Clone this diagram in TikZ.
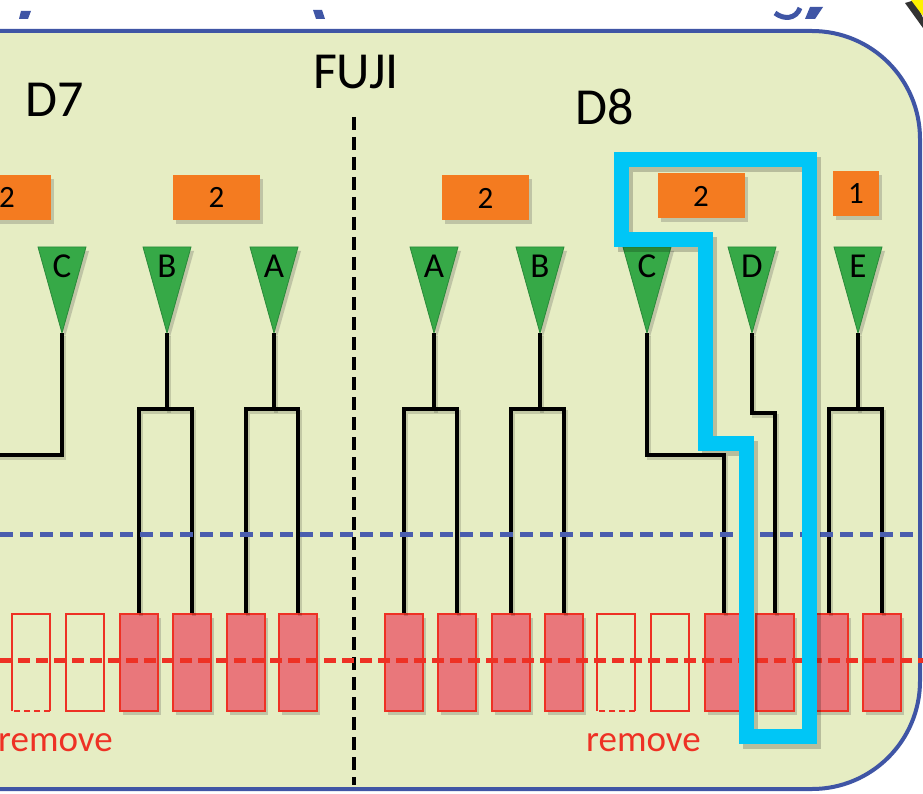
\documentclass[tikz,border=0pt]{standalone}
\usepackage{fontspec}
\setmainfont{Carlito}
\usetikzlibrary{shadows}
\definecolor{bg}{HTML}{E6EDC3}
\definecolor{bordblue}{HTML}{3F55A5}
\definecolor{dashblue}{HTML}{4A5DAE}
\definecolor{orangebox}{HTML}{F47B20}
\definecolor{trigreen}{HTML}{36A947}
\definecolor{triedge}{HTML}{2A8A3A}
\definecolor{redfill}{HTML}{E9777B}
\definecolor{reddraw}{HTML}{EE3124}
\definecolor{cyanline}{HTML}{00C6F6}
\tikzset{
  shad/.style={drop shadow={shadow xshift=3pt, shadow yshift=-4pt, opacity=0.25, fill=black!70}},
  obox/.style={fill=orangebox, inner sep=0pt, minimum height=45pt, minimum width=87pt, shad,
     font=\fontsize{31}{31}\selectfont, text=black},
  trishape/.style={fill=trigreen, draw=triedge, line width=0.8pt, shad},
  trilabel/.style={inner sep=0pt, font=\fontsize{35}{35}\selectfont, text=black},
  rbox/.style={fill=redfill, draw=reddraw, line width=2pt, minimum width=38pt, minimum height=97pt, inner sep=0pt, shad},
  rempty/.style={draw=reddraw, line width=2pt, minimum width=38pt, minimum height=97pt, inner sep=0pt},
  rhalf/.style={minimum width=38pt, minimum height=97pt, inner sep=0pt},
  wire/.style={draw=black, line width=3.8pt,
     preaction={draw=black, opacity=0.15, line width=3.8pt, transform canvas={xshift=2pt, yshift=-3pt}}},
  big/.style={inner sep=0pt, font=\fontsize{52}{52}\selectfont, text=black},
  remtext/.style={inner sep=0pt, font=\fontsize{37}{37}\selectfont, text=reddraw},
}
\newcommand{\tri}[3]{%
  \path[trishape] (#2-24,247) -- (#2+24,247) -- (#2,333) -- cycle;
  \node[trilabel] (#1) at (#2,266) {#3};
  \coordinate (#1-a) at (#2,333);
}
\begin{document}
\begin{tikzpicture}[x=1pt,y=-1pt]
\useasboundingbox (0,0) rectangle (923,794);
\fill[white] (0,0) rectangle (923,794);
% top fragments
\fill[bordblue] (21,11) -- (31,11) -- (28,19) -- (19,19) -- cycle;
\fill[bordblue] (313,10) -- (322,10) -- (325,19) -- (316,19) -- cycle;
\draw[bordblue, line width=5pt] (775,13) .. controls (784,20) and (796,19) .. (800,8);
\fill[bordblue] (810,7) -- (823,7) -- (815,19) -- (805,19) -- cycle;
\fill[black!80] (905,3) -- (915,0) -- (923,18) -- (923,28) -- cycle;
\fill[yellow] (911,0) -- (923,0) -- (923,16) -- cycle;
% panel
\draw[line width=4pt, draw=bordblue, fill=bg, rounded corners=108pt] (-200,31) rectangle (920,789);
% titles
\node[big] (d7) at (55,100) {D7};
\node[big] (fuji) at (356,72) {FUJI};
\node[big] (d8) at (605,107) {D8};
% FUJI divider
\coordinate (divtop) at (354,117);
\coordinate (divbot) at (354,785);
\draw[line width=4.5pt, dash pattern=on 13pt off 7pt] (divtop) -- (divbot);
% orange boxes
\node[obox] (o0) at (7,197.5) {2};
\node[obox] (o1) at (216.5,197.5) {2};
\node[obox] (o2) at (485.5,198) {2};
\node[obox] (o3) at (701,196) {2};
\node[obox, minimum width=46pt] (o4) at (856,194) {1};
% triangles
\tri{tC7}{62}{C}
\tri{tB7}{167}{B}
\tri{tA7}{274}{A}
\tri{tA8}{434}{A}
\tri{tB8}{540}{B}
\tri{tC8}{647}{C}
\tri{tD8}{752}{D}
\tri{tE8}{858}{E}
% red boxes
\node[rhalf] (r1) at (31,662.5) {};
\node[rempty] (r2) at (85,662.5) {};
\node[rbox] (r3) at (139,662.5) {};
\node[rbox] (r4) at (192,662.5) {};
\node[rbox] (r5) at (246,662.5) {};
\node[rbox] (r6) at (298,662.5) {};
\node[rbox] (r7) at (404,662.5) {};
\node[rbox] (r8) at (457,662.5) {};
\node[rbox] (r9) at (511,662.5) {};
\node[rbox] (r10) at (564,662.5) {};
\node[rhalf] (r11) at (616,662.5) {};
\node[rempty] (r12) at (670,662.5) {};
\node[rbox] (r13) at (724,662.5) {};
\node[rbox] (r14) at (775,662.5) {};
\node[rbox] (r15) at (829,662.5) {};
\node[rbox] (r16) at (882,662.5) {};
\foreach \b in {r1,r11}{
  \draw[reddraw, line width=2pt] (\b.south west) -- (\b.north west) -- (\b.north east) -- (\b.south east);
  \draw[reddraw, line width=2pt, dash pattern=on 6pt off 4pt] (\b.south east) -- (\b.south west);
}
% wires
\coordinate (c7end) at (-5,455);
\draw[wire] (tC7-a) -- (tC7-a |- c7end) -- (c7end);
\foreach \t/\l/\r in {tB7/r3/r4, tA7/r5/r6, tA8/r7/r8, tB8/r9/r10, tE8/r15/r16}{
  \draw[wire] (\t-a) -- ++(0,77);
  \draw[wire] (\l.north) -- ++(0,-204) -| (\r.north);
}
\draw[wire] (tC8-a) -- ++(0,122) -| (r13.north);
\draw[wire] (tD8-a) -- ++(0,80) -| (r14.north);
% dashed level lines
\coordinate (bl) at (0,534);
\coordinate (br) at (920,534);
\draw[dashblue, line width=5pt, dash pattern=on 13pt off 7pt] (bl) -- (br);
\coordinate (rl) at (0,660);
\coordinate (rr) at (923,660);
\draw[reddraw, line width=5pt, dash pattern=on 12pt off 6pt] (rl) -- (rr);
% remove labels
\node[remtext, anchor=base west] (rem1) at (-2,751) {remove};
\node[remtext, anchor=base west] (rem2) at (586,751) {remove};
% cyan highlight
\draw[black, opacity=0.2, line width=15pt, miter limit=10, transform canvas={xshift=4pt, yshift=-5pt}]
  (621,160) -- (809,160) -- (809,736) -- (746,736) -- (746,443) -- (705,443) -- (705,240) -- (621,240) -- cycle;
\draw[cyanline, line width=15pt, miter limit=10]
  (621,160) -- (809,160) -- (809,736) -- (746,736) -- (746,443) -- (705,443) -- (705,240) -- (621,240) -- cycle;
\end{tikzpicture}
\end{document}
